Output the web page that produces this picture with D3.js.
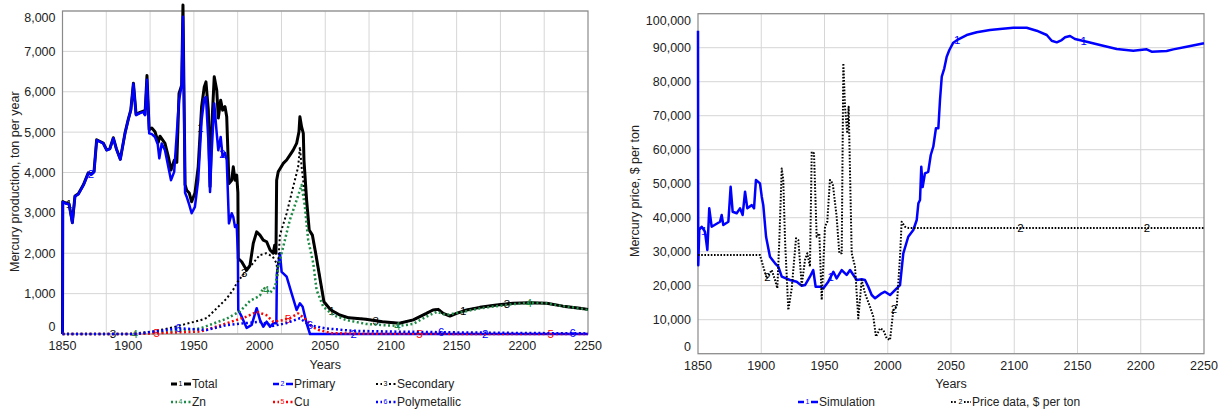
<!DOCTYPE html>
<html>
<head>
<meta charset="utf-8">
<script src="https://cdn.jsdelivr.net/npm/d3@7"></script>
<style>
  body { margin: 0; background: #fff; }
  svg { display: block; }
  text { font-family: "Liberation Sans", Arial, sans-serif; fill: #222; }
</style>
</head>
<body>
<svg id="chart" width="1229" height="412"></svg>
<script>
// ---- tick labels ----
const yearTicks = [1850, 1900, 1950, 2000, 2050, 2100, 2150, 2200, 2250];
const productionTicks = [0, 1000, 2000, 3000, 4000, 5000, 6000, 7000, 8000];
const priceTicks = [0, 10000, 20000, 30000, 40000, 50000, 60000, 70000, 80000, 90000, 100000];

// ---- mercury production, ton per year: [year, value] ----
const totalProduction = [[1850,0],[1850.2,3280],[1852,3250],[1855,3220],[1857.5,2760],[1859.5,3420],[1862,3470],[1866,3700],[1869.6,3990],[1872,3960],[1874,4020],[1876,4810],[1881,4730],[1883.6,4560],[1886,4590],[1888.7,4860],[1891,4590],[1894,4330],[1897.6,4980],[1900,5310],[1902,5550],[1904,6210],[1906,5440],[1909,5490],[1911.5,5520],[1912.8,5440],[1914.3,6400],[1916,5060],[1918,5100],[1920.4,5010],[1922.9,4750],[1924.2,4900],[1928,4720],[1930.5,4400],[1932.6,4060],[1935,4300],[1937,4250],[1938.7,5960],[1940.7,6160],[1941.7,8150],[1943.3,3700],[1944.5,3560],[1946.5,3490],[1948.3,3275],[1950.8,3490],[1953.3,4140],[1955.9,5630],[1957.9,6120],[1959.2,6245],[1961,5545],[1962.3,3645],[1963.5,5050],[1965.5,6370],[1967.4,6040],[1968.6,5350],[1970.4,5790],[1971.9,5545],[1973.7,5630],[1975,5380],[1976.7,3730],[1978.8,3810],[1980,4140],[1981.3,3810],[1982.6,3935],[1983.5,3500],[1983.8,1870],[1986.4,1790],[1990.2,1580],[1992.7,1700],[1995.2,2245],[1997.8,2530],[2000.3,2450],[2002.8,2325],[2005.4,2285],[2008,2080],[2010.4,2000],[2011.5,2200],[2012.5,2000],[2013,3810],[2014.2,4020],[2018,4225],[2020.6,4310],[2023.1,4430],[2025.6,4555],[2028.2,4720],[2030,5010],[2030.7,5380],[2032,5130],[2033.3,4970],[2033.8,4310],[2035.8,3320],[2037.8,2575],[2040.2,2450],[2042.7,2000],[2046.6,1255],[2049,800],[2054,600],[2061,470],[2068,400],[2081,365],[2093.6,305],[2106.4,265],[2117,350],[2127,510],[2132,595],[2136,610],[2139.8,510],[2144.9,445],[2150,510],[2157.6,595],[2167.7,660],[2180.4,720],[2193,760],[2205.8,775],[2218.5,760],[2231,690],[2243.8,635],[2250,610]];

const primaryProduction = [[1850,0],[1850.2,3270],[1852,3240],[1855,3210],[1857.5,2750],[1859.5,3410],[1862,3460],[1866,3690],[1869.6,3980],[1872,3950],[1874,4010],[1876,4800],[1881,4720],[1883.6,4550],[1886,4580],[1888.7,4850],[1891,4580],[1894,4320],[1897.6,4970],[1900,5300],[1902,5540],[1904,6200],[1906,5420],[1909,5470],[1911.5,5500],[1912.8,5420],[1914.3,6300],[1916,4970],[1918,4950],[1920.4,4880],[1922.5,4700],[1923.7,4350],[1925.5,4720],[1928,4550],[1932.6,3810],[1935,4015],[1938.7,5790],[1940.7,6160],[1941.7,7855],[1943.3,3500],[1944.5,3400],[1946.5,3200],[1948.3,2990],[1950.8,3150],[1953.3,3810],[1955.9,5300],[1957.9,5830],[1959.2,5870],[1961,4800],[1962.3,3520],[1963.5,4480],[1965.5,5710],[1967.4,4970],[1968.6,4550],[1970.4,4880],[1971.9,4390],[1973.7,4480],[1975,4310],[1976.7,2740],[1978.8,2990],[1980,2900],[1981.3,2650],[1982.6,2700],[1983.5,2000],[1983.8,595],[1986.4,430],[1990.2,150],[1994,225],[1997.8,640],[2000.3,350],[2002.8,180],[2005.4,305],[2008,180],[2010.4,265],[2012.8,265],[2013.2,1500],[2015.5,2000],[2016.8,1540],[2020.6,1420],[2024.4,1005],[2028.2,595],[2030.7,760],[2032.8,675],[2035.8,265],[2038.4,0],[2250,0]];

const secondaryProduction = [[1850,0],[1900,0],[1905,10],[1920,70],[1935,170],[1945,260],[1955,340],[1960,400],[1965,560],[1970,720],[1975,880],[1980,1100],[1983,1280],[1990,1580],[1995,1750],[2000,1950],[2005,2000],[2010,1920],[2013,1750],[2013.6,1450],[2015.5,2450],[2020.6,2985],[2025.6,3645],[2029.4,4140],[2030.7,4635],[2032,4140],[2033.8,3645],[2035.8,2985],[2037.8,2575],[2040.2,2450],[2042.7,2000],[2046.6,1255],[2049,800],[2054,600],[2061,470],[2068,400],[2081,365],[2093.6,305],[2106.4,265],[2117,350],[2127,510],[2132,595],[2136,610],[2139.8,510],[2144.9,445],[2150,510],[2157.6,595],[2167.7,660],[2180.4,720],[2193,760],[2205.8,775],[2218.5,760],[2231,690],[2243.8,635],[2250,610]];

const znProduction = [[1850,0],[1905,0],[1930,50],[1955,140],[1975,380],[1985,560],[1992.7,820],[2000.3,950],[2002.8,1150],[2005.4,1090],[2008,1020],[2011.9,1170],[2014.2,1665],[2018,2160],[2023,2820],[2028.2,3315],[2032,3690],[2034.5,3150],[2037,2330],[2040.9,1750],[2043.4,1090],[2048.5,675],[2056,470],[2066,345],[2081,250],[2093.6,220],[2106.4,200],[2117,250],[2127,430],[2135,550],[2142,470],[2155,550],[2167.7,635],[2180.4,690],[2193,740],[2205.8,775],[2218.5,760],[2231,690],[2243.8,635],[2250,595]];

const cuProduction = [[1850,0],[1905,0],[1922,20],[1955,60],[1975,265],[1990,430],[1998,550],[2005,470],[2010.4,305],[2018,345],[2023,390],[2029.4,510],[2035.8,345],[2040,180],[2045,100],[2055,20],[2080,5],[2250,0]];

const polymetallicProduction = [[1850,0],[1905,0],[1915,40],[1939,140],[1959.7,100],[1975,220],[2000,305],[2010,200],[2020,265],[2030.7,390],[2038,220],[2050,140],[2070,80],[2100,60],[2150,40],[2200,25],[2250,15]];

const productionNames = ["Total", "Primary", "Secondary", "Zn", "Cu", "Polymetallic"];

// ---- mercury price, $ per ton: [year, value] ----
const simulatedPrice = [[1850,95000],[1850.2,26000],[1851,36500],[1852.9,37350],[1855.5,35900],[1857.4,30500],[1858.9,42750],[1860.8,37350],[1867.4,38800],[1868.7,40800],[1870,37850],[1874,38800],[1875.8,49100],[1877.4,41760],[1880.6,41300],[1883.2,42760],[1885.3,40800],[1887.2,47650],[1889,42760],[1892.5,43700],[1894.3,42760],[1895.8,51090],[1899,50100],[1900.4,46180],[1901.6,43700],[1903.8,34400],[1906.9,28500],[1910.9,26600],[1913.5,25600],[1916.2,22650],[1922.7,21680],[1928,21180],[1932,20000],[1934.6,20200],[1938.5,22650],[1941.1,24600],[1943,19700],[1946.4,19700],[1949,19200],[1953,21180],[1957,24100],[1959.6,22160],[1963.6,24600],[1967.5,23150],[1970.2,24600],[1972.8,23150],[1975.5,21680],[1979.4,21880],[1982,21680],[1984.6,19700],[1987.3,17260],[1990,16290],[1995.2,17760],[1997.8,18240],[2001.8,17260],[2005.7,18730],[2009.7,20200],[2012.3,29530],[2016.2,34400],[2020.2,36380],[2022.9,39320],[2024.2,44230],[2025.5,45200],[2026.5,55000],[2027.6,49000],[2029.4,53050],[2032,53500],[2034,58440],[2036,60880],[2038.1,66300],[2040,66300],[2041.3,74620],[2042.7,81470],[2044.7,83940],[2046.6,87350],[2048.7,89320],[2051.8,91470],[2055.8,92470],[2062.4,93730],[2070.3,94530],[2080.8,95200],[2088.7,95500],[2099.3,95880],[2109.8,95880],[2117.7,95000],[2125.7,93730],[2129.6,92060],[2133.6,91580],[2137.5,92260],[2140.2,93060],[2144.1,93440],[2148,92560],[2157.3,91770],[2167.8,90790],[2181,89610],[2194.1,89120],[2199.4,89320],[2204.7,89510],[2208.6,88820],[2220.5,89020],[2225.7,89510],[2236.3,90300],[2250,91300]];

const priceData = [[1850,29000],[1899,29000],[1901.6,25600],[1904.3,22180],[1908.3,24600],[1910.9,21680],[1912.7,19240],[1914.3,33400],[1916.2,54500],[1917.4,51080],[1918.8,33400],[1921.4,12840],[1924.1,19240],[1927.5,33940],[1929.3,33400],[1932,20200],[1934.6,27560],[1936.4,29530],[1938.5,25600],[1939.9,59400],[1941.7,58940],[1943.8,34410],[1945.9,35400],[1947.8,15800],[1950.4,37350],[1952.2,38820],[1954.3,51090],[1956.5,50110],[1959.6,40300],[1961.7,29530],[1963.6,29530],[1964.9,85410],[1966.2,72650],[1968,64820],[1969.1,72650],[1971.5,29530],[1974.1,25600],[1976.7,10400],[1979.4,21680],[1982,17770],[1986,13820],[1988.6,10880],[1990.7,5000],[1993.9,7470],[1996.5,6970],[1999.2,4530],[2001.8,4030],[2004.4,12840],[2007.1,13820],[2009.7,28530],[2011,38820],[2013.6,37350],[2016.2,37000],[2250,37000]];

const priceNames = ["Simulation", "Price data, $ per ton"];

// ---- drawing ----
const svg = d3.select("#chart");
const FONT = 12.5;

// value at a given year by linear interpolation along a series
function valueAt(series, year) {
  for (let i = 1; i < series.length; i++) {
    const [x0, y0] = series[i - 1], [x1, y1] = series[i];
    if (year >= x0 && year <= x1) {
      return x1 === x0 ? y1 : y0 + (y1 - y0) * (year - x0) / (x1 - x0);
    }
  }
  return series[series.length - 1][1];
}

function drawPanel(cfg) {
  const g = svg.append("g");
  const x = d3.scaleLinear().domain([1850, 2250]).range([cfg.left, cfg.right]);
  const y = d3.scaleLinear().domain([0, cfg.yMax]).range([cfg.bottom, cfg.top]);

  // grid
  g.append("g").selectAll("line").data(cfg.yTicks).join("line")
    .attr("x1", cfg.left).attr("x2", cfg.right)
    .attr("y1", d => y(d)).attr("y2", d => y(d))
    .attr("stroke", "#d6d6d6").attr("stroke-width", 1);
  g.append("g").selectAll("line").data(cfg.xGrid).join("line")
    .attr("y1", cfg.top).attr("y2", cfg.bottom)
    .attr("x1", d => x(d)).attr("x2", d => x(d))
    .attr("stroke", "#d6d6d6").attr("stroke-width", 1);
  g.append("rect")
    .attr("x", cfg.left).attr("y", cfg.top)
    .attr("width", cfg.right - cfg.left).attr("height", cfg.bottom - cfg.top)
    .attr("fill", "none").attr("stroke", "#8a8a8a").attr("stroke-width", 1.2);

  // tick labels
  const fmt = d3.format(",");
  g.append("g").selectAll("text").data(cfg.yTicks).join("text")
    .attr("x", cfg.left - 7)
    .attr("y", d => Math.max(cfg.top + 7, Math.min(cfg.bottom - 7, y(d))))
    .attr("dy", "0.35em").attr("text-anchor", "end")
    .attr("font-size", FONT).text(d => fmt(d));
  g.append("g").selectAll("text").data(yearTicks).join("text")
    .attr("x", d => x(d)).attr("y", cfg.xLabelY)
    .attr("text-anchor", "middle").attr("font-size", FONT).text(d => d);

  // axis titles
  g.append("text").attr("x", (cfg.left + cfg.right) / 2).attr("y", cfg.yearsY)
    .attr("text-anchor", "middle").attr("font-size", FONT).text("Years");
  g.append("text")
    .attr("transform", `translate(${cfg.titleX},${cfg.titleY}) rotate(-90)`)
    .attr("text-anchor", "start").attr("font-size", FONT).text(cfg.yTitle);

  // series, each with its numbered markers along the line
  const line = d3.line().x(d => x(d[0])).y(d => y(d[1]));
  const n = cfg.series.length;
  cfg.series.forEach((s, i) => {
    g.append("path").datum(s.data)
      .attr("d", line).attr("fill", "none")
      .attr("stroke", s.color).attr("stroke-width", s.width)
      .attr("stroke-dasharray", s.dash || null)
      .attr("stroke-linejoin", "round");
    const markYears = d3.range(4).map(k => 1855 + i * 100 / n + 100 * k).filter(v => v < 2250);
    g.append("g").selectAll("text").data(markYears).join("text")
      .attr("x", d => x(d)).attr("y", d => y(valueAt(s.data, d)))
      .attr("dy", "0.35em").attr("text-anchor", "middle")
      .attr("font-size", 11.5).style("fill", s.labelColor || s.color)
      .text(i + 1);
  });

  // legend
  cfg.series.forEach((s, i) => {
    const [lx, ly] = cfg.legendPos[i];
    const lg = g.append("g");
    const seg = (a, b) => lg.append("line")
      .attr("x1", lx + a).attr("x2", lx + b).attr("y1", ly).attr("y2", ly)
      .attr("stroke", s.color).attr("stroke-width", s.legendWidth || s.width)
      .attr("stroke-dasharray", s.dash || null);
    seg(0, 6);
    seg(13, 20);
    lg.append("text").attr("x", lx + 9.5).attr("y", ly).attr("dy", "0.35em")
      .attr("text-anchor", "middle").attr("font-size", 7)
      .style("fill", s.labelColor || s.color).text(i + 1);
    lg.append("text").attr("x", lx + 21).attr("y", ly).attr("dy", "0.35em")
      .attr("font-size", 12).text(s.name);
  });
}

const GREEN = "#1d8a45";

drawPanel({
  left: 62.5, right: 588, top: 11, bottom: 334, yMax: 8000,
  yTicks: productionTicks,
  xGrid: d3.range(1, 12).map(k => 1850 + k * 400 / 12),
  xLabelY: 349.5, yearsY: 368.5,
  titleX: 18.5, titleY: 272,
  yTitle: "Mercury production, ton per year",
  series: [
    { name: productionNames[0], data: totalProduction, color: "#000", width: 3 },
    { name: productionNames[1], data: primaryProduction, color: "#0000ff", width: 2.5 },
    { name: productionNames[2], data: secondaryProduction, color: "#000", width: 2, dash: "2,2.5" },
    { name: productionNames[3], data: znProduction, color: GREEN, width: 2.5, dash: "2,2.5" },
    { name: productionNames[4], data: cuProduction, color: "#ff0000", width: 2.5, dash: "2,2.5" },
    { name: productionNames[5], data: polymetallicProduction, color: "#0000ff", width: 2.5, dash: "2,2.5" }
  ],
  legendPos: [[171, 384], [273, 384], [376, 384], [171, 402], [273, 402], [376, 402]]
});

drawPanel({
  left: 698, right: 1204, top: 13.7, bottom: 353.7, yMax: 100000,
  yTicks: priceTicks,
  xGrid: d3.range(1, 8).map(k => 1850 + k * 50),
  xLabelY: 369.5, yearsY: 387.5,
  titleX: 639, titleY: 257,
  yTitle: "Mercury price, $ per ton",
  series: [
    { name: priceNames[0], data: simulatedPrice, color: "#0000ff", width: 2.5 },
    { name: priceNames[1], data: priceData, color: "#000", width: 2, dash: "1.6,1.6" }
  ],
  legendPos: [[798, 402], [951, 402]]
});
</script>
</body>
</html>
